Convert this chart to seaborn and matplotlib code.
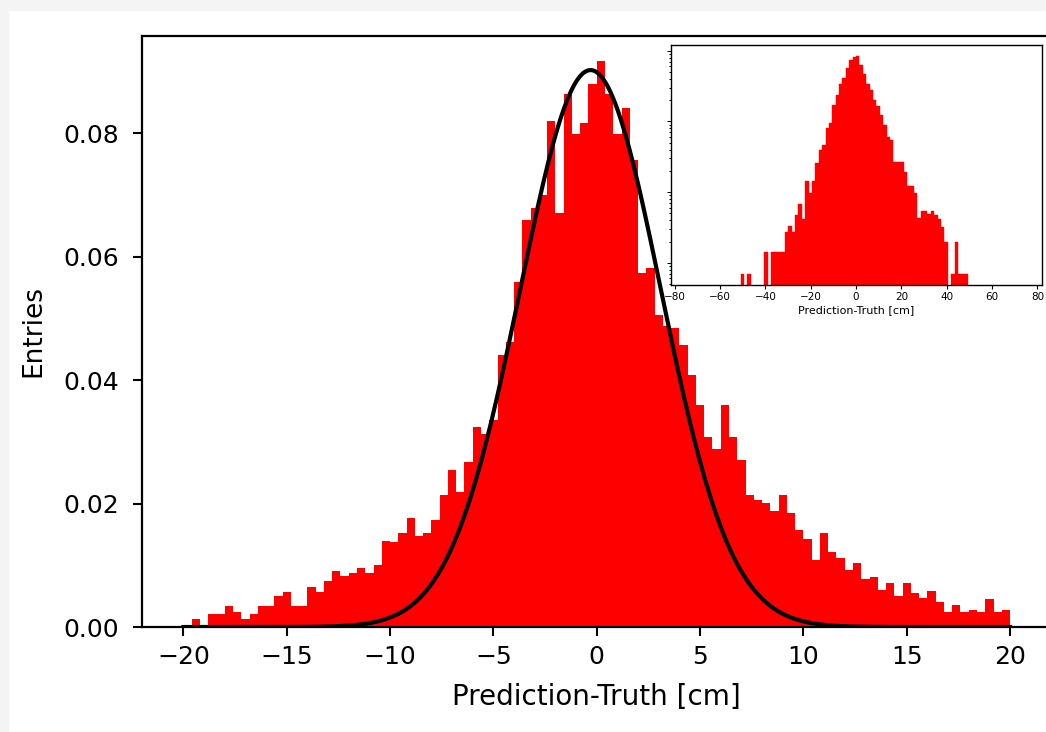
import numpy as np
import pandas as pd
import matplotlib
matplotlib.use("Agg")
import matplotlib.pyplot as plt
from matplotlib.patches import Rectangle
import seaborn as sns

# main histogram: 100 bins over [-20, 20], normalised
main_lo, main_hi, main_nbins = -20.0, 20.0, 100
main_density = [
    0.0004, 0.0013, 0.0004, 0.0021, 0.0021, 0.0034, 0.0025, 0.0013, 0.0021, 0.0034,
    0.0034, 0.0051, 0.0057, 0.0034, 0.0034, 0.0065, 0.0057, 0.0074, 0.0091, 0.0083,
    0.0087, 0.0096, 0.0087, 0.0100, 0.0140, 0.0138, 0.0152, 0.0177, 0.0147, 0.0152,
    0.0173, 0.0214, 0.0254, 0.0219, 0.0268, 0.0324, 0.0313, 0.0335, 0.0440, 0.0462,
    0.0559, 0.0660, 0.0678, 0.0700, 0.0819, 0.0670, 0.0864, 0.0798, 0.0816, 0.0880,
    0.0916, 0.0864, 0.0798, 0.0840, 0.0756, 0.0573, 0.0581, 0.0505, 0.0487, 0.0484,
    0.0457, 0.0408, 0.0360, 0.0308, 0.0289, 0.0360, 0.0308, 0.0270, 0.0214, 0.0206,
    0.0201, 0.0188, 0.0214, 0.0184, 0.0157, 0.0143, 0.0109, 0.0152, 0.0121, 0.0112,
    0.0092, 0.0103, 0.0078, 0.0081, 0.0060, 0.0071, 0.0051, 0.0071, 0.0055, 0.0047,
    0.0058, 0.0040, 0.0024, 0.0036, 0.0024, 0.0028, 0.0024, 0.0046, 0.0024, 0.0028,
]

# inset: full range, 1.5 cm bins from -51, log y
inset_lo, inset_width = -51.0, 1.5
inset_density = [
    7e-5, 0, 7e-5, 0, 0, 0, 0, 1.4e-4, 0, 1.4e-4,
    1.4e-4, 1.4e-4, 1.4e-4, 2.7e-4, 3.3e-4, 2.7e-4, 4.7e-4, 6.8e-4, 4.2e-4, 1.45e-3,
    9.6e-4, 1.45e-3, 2.55e-3, 4.0e-3, 4.6e-3, 8.0e-3, 9.4e-3, 0.0171, 0.0236, 0.0335,
    0.0407, 0.0564, 0.074, 0.0823, 0.085, 0.0628, 0.0463, 0.0334, 0.0278, 0.0201,
    0.0165, 0.0123, 0.0089, 0.0061, 0.00546, 0.00269, 0.00269, 0.00265, 0.00195, 0.00123,
    0.00123, 9.6e-4, 4.26e-4, 5.4e-4, 5.4e-4, 4.85e-4, 5.4e-4, 4.8e-4, 4.17e-4, 3.24e-4,
    2.0e-4, 0, 7e-5, 2.0e-4, 7e-5, 7e-5, 7e-5,
]

# gaussian fit (amplitude, mean, sigma)
fit_amp, fit_mu, fit_sigma = 0.0902, -0.3, 3.4

xlabel = "Prediction-Truth [cm]"
ylabel = "Entries"
main_xticks = [-20, -15, -10, -5, 0, 5, 10, 15, 20]
main_yticks = [0.00, 0.02, 0.04, 0.06, 0.08]
inset_xticks = [-80, -60, -40, -20, 0, 20, 40, 60, 80]

main_w = (main_hi - main_lo) / main_nbins
main_df = pd.DataFrame({"x": main_lo + main_w * (np.arange(main_nbins) + 0.5),
                        "w": main_density})
inset_n = len(inset_density)
inset_hi = inset_lo + inset_width * inset_n
inset_df = pd.DataFrame({"x": inset_lo + inset_width * (np.arange(inset_n) + 0.5),
                         "w": inset_density})

plt.rcParams["font.family"] = ["DejaVu Sans"]

fig = plt.figure(figsize=(10.46, 7.32), dpi=100)
# light grey screenshot border (top and left)
fig.patches.append(Rectangle((0, 0.986), 1, 0.014, transform=fig.transFigure,
                             color="#f4f4f4", zorder=-1))
fig.patches.append(Rectangle((0, 0), 0.0077, 1, transform=fig.transFigure,
                             color="#f4f4f4", zorder=-1))

ax = fig.add_axes([0.1358, 0.1434, 0.8694, 0.8081])
sns.histplot(data=main_df, x="x", weights="w", bins=main_nbins,
             binrange=(main_lo, main_hi), stat="count",
             element="step", fill=True, color="red", alpha=1, linewidth=0, ax=ax)
xs = np.linspace(main_lo, main_hi, 500)
ys = fit_amp * np.exp(-0.5 * ((xs - fit_mu) / fit_sigma) ** 2)
sns.lineplot(x=xs, y=ys, color="black", linewidth=3.0, ax=ax)
ax.set_xlim(-22, 22)
ax.set_ylim(0, 0.0958)
ax.set_xticks(main_xticks)
ax.set_yticks(main_yticks)
ax.set_yticklabels([f"{v:.2f}" for v in main_yticks])
ax.set_xlabel(xlabel, fontsize=20)
ax.set_ylabel(ylabel, fontsize=19)
ax.xaxis.set_label_coords(0.5, -0.095)
ax.yaxis.set_label_coords(-0.105, 0.5)
ax.tick_params(labelsize=18, length=6.8, width=1.5)
ax.tick_params(axis="x", pad=6.0)
ax.tick_params(axis="y", pad=9.5)
for s in ax.spines.values():
    s.set_linewidth(1.6)

ins = fig.add_axes([0.6412, 0.6102, 0.3545, 0.3279])
ins.set_yscale("log")
sns.histplot(data=inset_df, x="x", weights="w", bins=inset_n,
             binrange=(inset_lo, inset_hi), stat="count",
             element="bars", fill=True, color="red", alpha=1, edgecolor="red",
             linewidth=0.3, ax=ins)
ins.set_xlim(-81.8, 81.8)
ins.set_ylim(4.8e-5, 0.119)
ins.set_xticks(inset_xticks)
ins.set_xlabel(xlabel, fontsize=8, labelpad=2.5)
ins.set_ylabel("")
ins.tick_params(axis="x", labelsize=7.5, length=3, width=0.8, pad=1.5)
ins.tick_params(axis="y", which="both", labelleft=False, width=0.7)
ins.tick_params(axis="y", which="major", length=3)
ins.tick_params(axis="y", which="minor", length=1.8)
for s in ins.spines.values():
    s.set_linewidth(1.0)

fig.savefig("out.png", dpi=100)
